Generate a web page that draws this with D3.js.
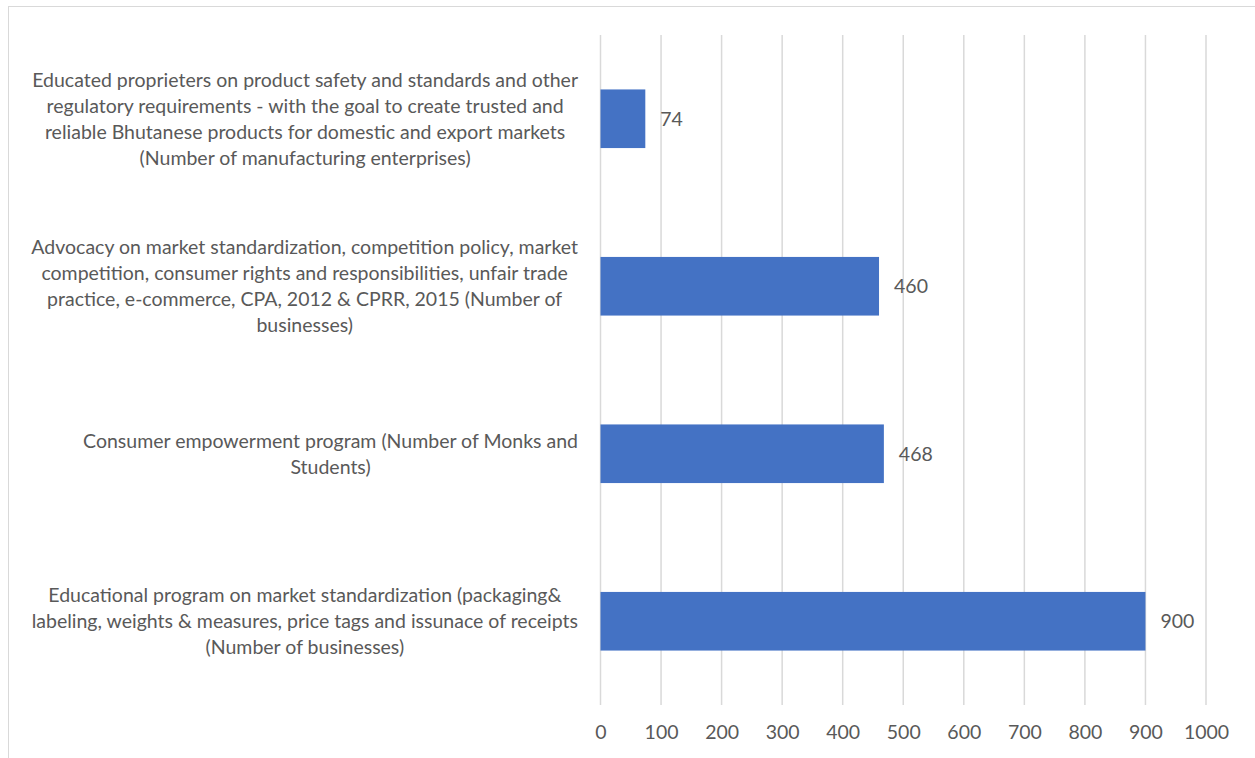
<!DOCTYPE html>
<html>
<head>
<meta charset="utf-8">
<script src="https://cdn.jsdelivr.net/npm/d3@7"></script>
<style>
  body { margin: 0; background: #fff; }
  svg { display: block; font-family: Lato, "Open Sans", sans-serif; }
</style>
</head>
<body>
<div id="chart-area"></div>
<script>
/***** Data *****/
const categories = [
  ["Educated proprieters on product safety and standards and other",
   "regulatory requirements - with the goal to create trusted and",
   "reliable Bhutanese products for domestic and export markets",
   "(Number of manufacturing enterprises)"],
  ["Advocacy on market standardization, competition policy, market",
   "competition, consumer rights and responsibilities, unfair trade",
   "practice, e-commerce, CPA, 2012 & CPRR, 2015 (Number of",
   "businesses)"],
  ["Consumer empowerment program (Number of Monks and",
   "Students)"],
  ["Educational program on market standardization (packaging&",
   "labeling, weights & measures, price tags and issunace of receipts",
   "(Number of businesses)"]
];
const values = [74, 460, 468, 900];
const xTicks = [0, 100, 200, 300, 400, 500, 600, 700, 800, 900, 1000];

/***** Layout *****/
const W = 1255, H = 758;
const plot = { left: 600.5, right: 1206, top: 35, bottom: 705 };
const textColor = "#595959";
const fontSize = "19.5px";
const labelRight = 578;   // right edge of the category label blocks

const svg = d3.select("#chart-area").append("svg")
  .attr("width", W).attr("height", H);

// chart border
svg.append("rect")
  .attr("x", 8.5).attr("y", 6.5).attr("width", W).attr("height", H)
  .attr("fill", "none").attr("stroke", "#d9d9d9").attr("stroke-width", 1);

const x = d3.scaleLinear().domain([0, 1000]).range([plot.left, plot.right]);
const y = d3.scaleBand().domain(d3.range(values.length))
  .range([plot.top, plot.bottom]).paddingInner(0.65).paddingOuter(0.325);

// gridlines
svg.append("g").selectAll("line").data(xTicks).join("line")
  .attr("x1", d => x(d)).attr("x2", d => x(d))
  .attr("y1", plot.top).attr("y2", plot.bottom)
  .attr("stroke", "#d9d9d9").attr("stroke-width", 1.5);

// axis labels
const xAxis = svg.append("g")
  .attr("transform", `translate(0,${plot.bottom})`)
  .call(d3.axisBottom(x).tickValues(xTicks).tickSize(0).tickPadding(20).tickFormat(d3.format("d")));
xAxis.select(".domain").remove();
xAxis.selectAll("text")
  .attr("fill", textColor).style("font-size", fontSize)
  .style("font-family", 'Lato, "Open Sans", sans-serif');

// bars
svg.append("g").selectAll("rect").data(values).join("rect")
  .attr("x", x(0))
  .attr("y", (d, i) => y(i))
  .attr("width", d => x(d) - x(0))
  .attr("height", y.bandwidth())
  .attr("fill", "#4472c4");

// value labels
svg.append("g").selectAll("text").data(values).join("text")
  .attr("x", d => x(d) + 15)
  .attr("y", (d, i) => y(i) + y.bandwidth() / 2)
  .attr("dy", "0.35em")
  .attr("fill", textColor).style("font-size", fontSize)
  .text(d => d);

// category labels: block right-aligned, lines centred inside the block
const lineH = 26;
svg.append("g").selectAll("text").data(categories).join("text")
  .attr("text-anchor", "middle")
  .attr("fill", textColor).style("font-size", fontSize)
  .each(function (lines, i) {
    const cy = y(i) + y.bandwidth() / 2;
    const y0 = cy - (lines.length - 1) * lineH / 2;
    const spans = d3.select(this).selectAll("tspan").data(lines).join("tspan")
      .attr("y", (l, j) => y0 + j * lineH)
      .attr("dy", "0.35em")
      .text(l => l);
    const maxW = d3.max(spans.nodes(), n => n.getComputedTextLength());
    spans.attr("x", labelRight - maxW / 2);
  });
</script>
</body>
</html>
